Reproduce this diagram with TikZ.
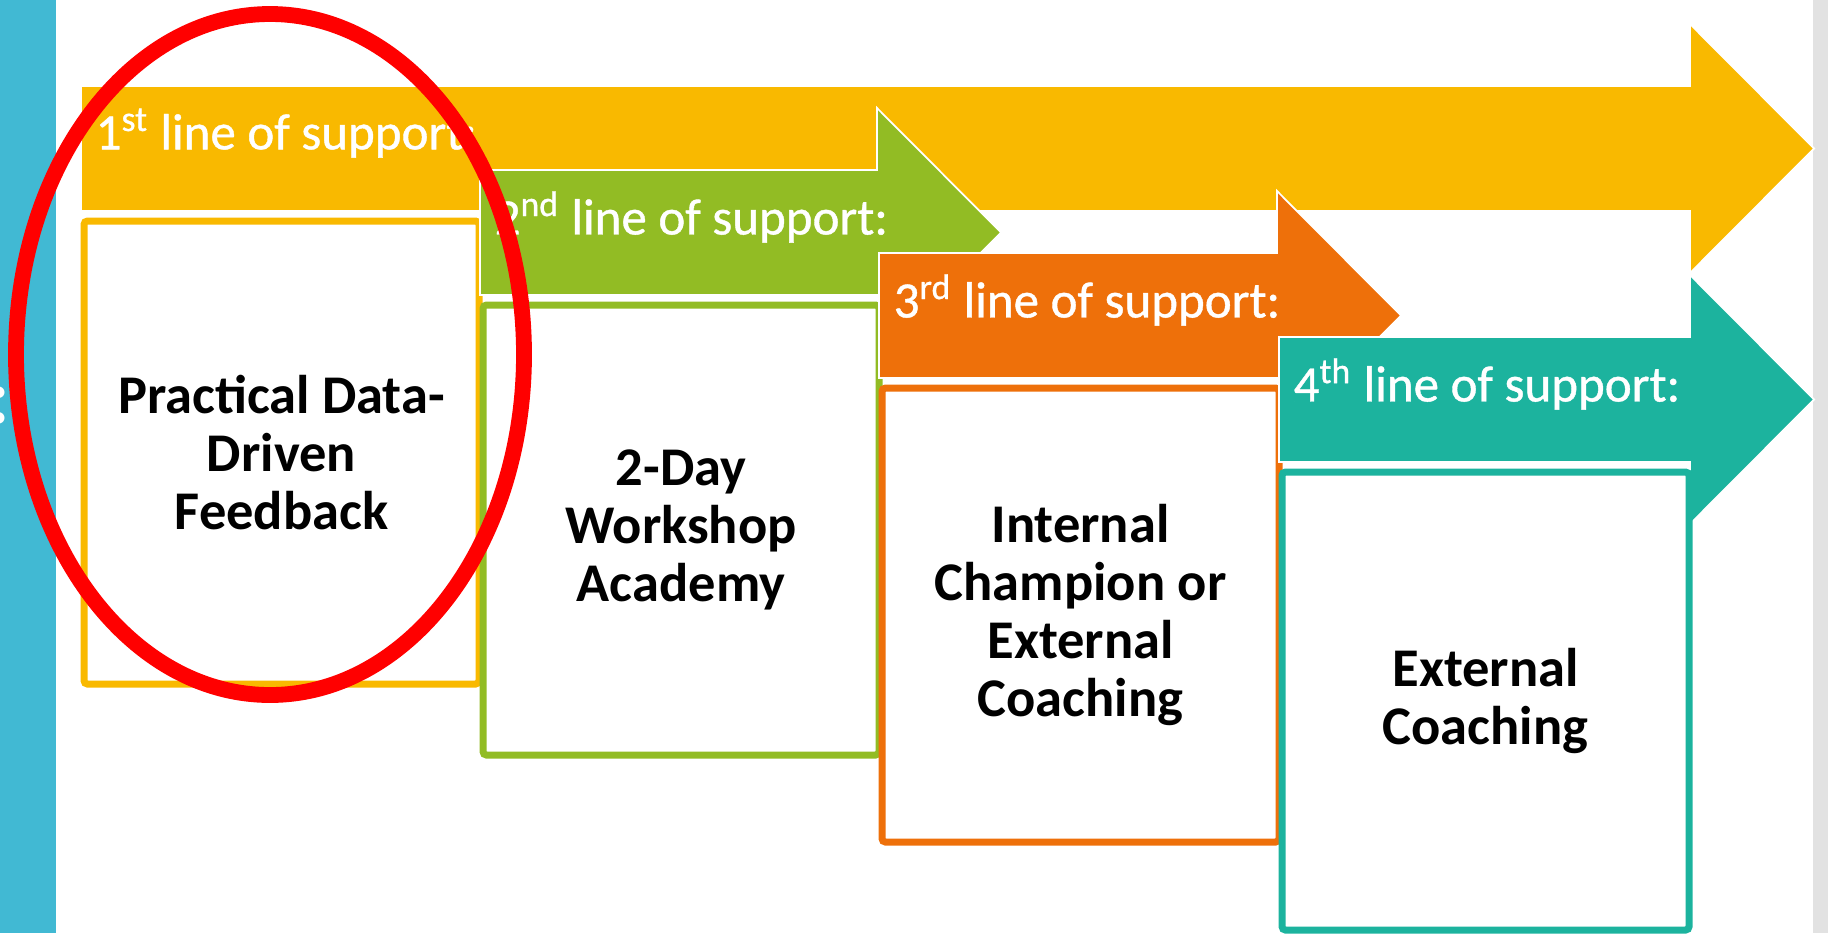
\documentclass[tikz,border=0pt]{standalone}
\usepackage{fontspec}
\setmainfont{Carlito}
\newfontfamily\bandfont{Carlito}[FakeBold=0.8]
\usetikzlibrary{positioning,calc}
\definecolor{palYellow}{HTML}{F9B900}
\definecolor{palGreen}{HTML}{92BC24}
\definecolor{palOrange}{HTML}{EE700A}
\definecolor{palTeal}{HTML}{1CB39E}
\definecolor{palBlue}{HTML}{41B9D3}
\definecolor{palRed}{HTML}{FF0000}
\definecolor{palGrayLt}{HTML}{E2E2E2}
\tikzset{
  supband/.style={draw=white, line width=0.5pt},
  suplabel/.style={text=white, anchor=west, inner sep=0pt,
                   font=\bandfont\fontsize{14.5}{16}\selectfont},
  supbox/.style={draw, line width=2pt, rounded corners=1pt, fill=white,
                 align=center, inner sep=0pt, anchor=north west,
                 font=\fontsize{15.5}{16.5}\selectfont\bfseries},
  markring/.style={draw=palRed, line width=4.5pt},
}

\begin{document}
\begin{tikzpicture}[x=0.01cm, y=-0.01cm]
\useasboundingbox (0,0) rectangle (1828,933);
\def\bandH{125}   % height of an arrow body
\def\headX{62}    % head overhang above and below the body
\def\headL{124}   % length of the arrow head

%% Side strips
\fill[palBlue] (0,0) rectangle (56,933);
\fill[palGrayLt] (1813,0) rectangle (1828,933);
\node[text=white, anchor=base east, inner sep=0pt, font=\fontsize{22}{22}\selectfont\bfseries] (cut) at (11,423) {:};

%% Lines of support, back to front
\foreach \i/\col/\xa/\xb/\yt/\xr/\yb/\lbl/\txt in {
  1/palYellow/81/1690/86/479/684/{1\textsuperscript{st}}/{Practical Data-\\Driven\\Feedback},
  2/palGreen/480/877/170/879/755/{2\textsuperscript{nd}}/{2-Day\\Workshop\\Academy},
  3/palOrange/879/1277/253/1279/842/{3\textsuperscript{rd}}/{Internal\\Champion or\\External\\Coaching},
  4/palTeal/1279/1690/337/1689/930/{4\textsuperscript{th}}/{External\\Coaching}} {
  \draw[supband, fill=\col] (\xa,\yt) -- (\xb,\yt) -- (\xb,\yt-\headX)
    -- (\xb+\headL,\yt+\bandH/2) -- (\xb,\yt+\bandH+\headX) -- (\xb,\yt+\bandH)
    -- (\xa,\yt+\bandH) -- cycle;
  \node[suplabel] (l\i) at (\xa+14,\yt+47) {\lbl\ line of support:};
  \pgfmathsetmacro\bw{(\xr-\xa-3)*0.01}
  \pgfmathsetmacro\bh{(\yb-\yt-\bandH-10)*0.01}
  \node[supbox, draw=\col, minimum width=\bw cm, minimum height=\bh cm]
    (b\i) at (\xa-0.5,\yt+\bandH+6.5) {\txt};
}

%% Highlight
\draw[markring] (270,354.5) ellipse [x radius=254, y radius=340.5];
\end{tikzpicture}
\end{document}
